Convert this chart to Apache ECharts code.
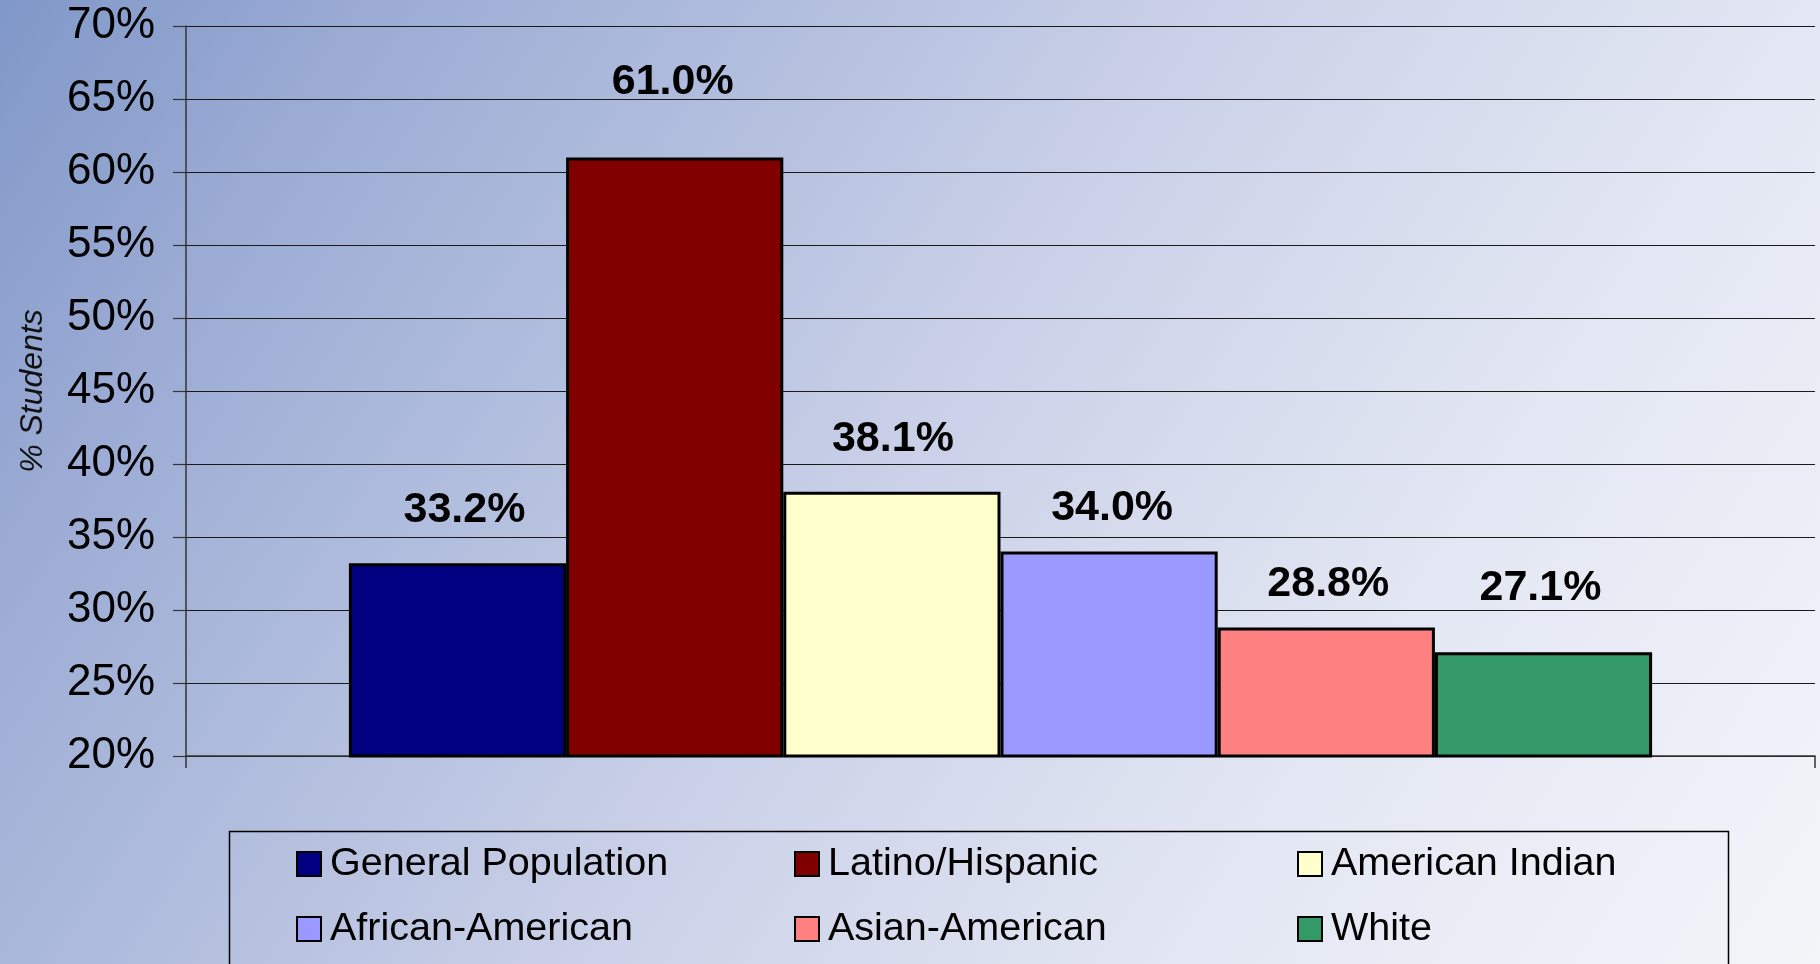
<!DOCTYPE html>
<html>
<head>
<meta charset="utf-8">
<title>% Students by group</title>
<script src="https://cdn.jsdelivr.net/npm/echarts@6.0.0/dist/echarts.min.js"></script>
<style>
  html, body { margin: 0; padding: 0; }
  #chart { width: 1820px; height: 964px; }
</style>
</head>
<body>
<div id="chart"></div>
<script>
// data
const groups = ['General Population', 'Latino/Hispanic', 'American Indian', 'African-American', 'Asian-American', 'White'];
const percents = [33.2, 61.0, 38.1, 34.0, 28.8, 27.1];
const yTicks = { min: 20, max: 70, step: 5 };
const axisName = '% Students';

// excel's classic palette
const colors = ['#000080', '#800000', '#FFFFCC', '#9999FF', '#FF8080', '#339966'];
// the labels in the original were dragged by hand, so each one gets a small nudge
const labelNudge = [[7, -32], [-2, -54], [1, -31], [3, -22], [2, -22], [-3, -43]];

const font = "'Liberation Sans', Arial, sans-serif";

let chart = echarts.init(document.getElementById('chart'));

let series = groups.map((name, i) => ({
  name: name,
  type: 'bar',
  data: [percents[i]],
  barGap: '0%',
  barCategoryGap: '20%',
  itemStyle: {
    color: colors[i],
    borderColor: '#000',
    borderWidth: 3
  },
  label: {
    show: true,
    position: 'top',
    distance: 0,
    offset: labelNudge[i],
    fontFamily: font,
    fontSize: 43,
    fontWeight: 'bold',
    color: '#000',
    formatter: p => p.value.toFixed(1) + '%'
  }
}));

// legend sits in three columns, two rows
function legendColumn(names, left) {
  return {
    data: names,
    orient: 'vertical',
    left: left,
    top: 844,
    padding: 0,
    itemWidth: 24,
    itemHeight: 24,
    itemGap: 25,
    icon: 'rect',
    selectedMode: false,
    itemStyle: { borderColor: '#000', borderWidth: 2 },
    textStyle: {
      fontFamily: font,
      fontSize: 39.5,
      color: '#000',
      lineHeight: 40,
      padding: [0, 0, 0, 4]
    }
  };
}

let option = {
  backgroundColor: {
    type: 'linear',
    x: 0, y: 0, x2: 0.94, y2: 1.175,
    colorStops: [
      { offset: 0, color: '#8098c8' },
      { offset: 0.17, color: '#9eadd5' },
      { offset: 0.26, color: '#a9b7da' },
      { offset: 0.5, color: '#cbd1e8' },
      { offset: 0.74, color: '#e3e7f3' },
      { offset: 1, color: '#f3f5f9' }
    ]
  },
  animation: false,
  grid: {
    left: 186,
    right: 5,
    top: 26,
    bottom: 208,
    containLabel: false,
    outerBoundsMode: 'none'
  },
  xAxis: {
    type: 'category',
    data: [''],
    axisLine: { lineStyle: { color: '#333', width: 1.5 } },
    axisTick: { show: true, length: 12, lineStyle: { color: '#333', width: 1.5 } },
    axisLabel: { show: false },
    splitLine: { show: false }
  },
  yAxis: {
    type: 'value',
    min: yTicks.min,
    max: yTicks.max,
    interval: yTicks.step,
    name: axisName,
    nameLocation: 'middle',
    nameGap: 137,
    nameTextStyle: {
      fontFamily: font,
      fontSize: 32,
      fontStyle: 'italic',
      color: '#111'
    },
    axisLine: { show: true, lineStyle: { color: '#333', width: 1.5 } },
    axisTick: { show: true, length: 13, lineStyle: { color: '#333', width: 1.2 } },
    axisLabel: {
      margin: 31,
      fontFamily: font,
      fontSize: 44,
      color: '#000',
      formatter: '{value}%'
    },
    splitLine: { lineStyle: { color: '#1a1a1a', width: 1.2 } }
  },
  legend: [
    legendColumn([groups[0], groups[3]], 296),
    legendColumn([groups[1], groups[4]], 794),
    legendColumn([groups[2], groups[5]], 1297)
  ],
  graphic: [{
    type: 'rect',
    left: 227,
    top: 829,
    shape: { width: 1499, height: 200 },
    style: { fill: 'none', stroke: '#000', lineWidth: 1.5 },
    silent: true
  }],
  series: series
};

chart.setOption(option);
</script>
</body>
</html>
